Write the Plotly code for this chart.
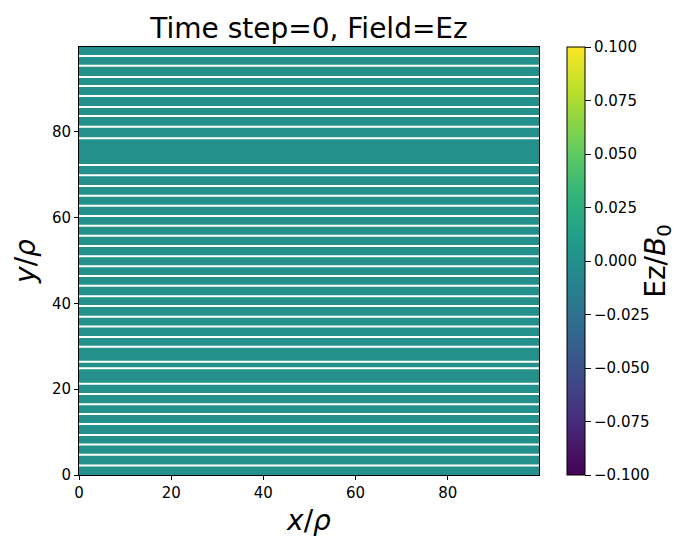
import numpy as np
import plotly.graph_objects as go

# ---- data ----
nx, ny = 100, 100
x_coords = list(np.arange(nx) + 0.5)
y_coords = list(np.arange(ny) + 0.5)
ez_field = np.zeros((ny, nx))          # Time step 0: Ez is identically zero
# y positions (in units of rho) of the thin white gaps seen in the map
gap_y = [97.7, 95.4, 92.8, 90.7, 88.4, 85.8, 83.7, 81.2, 78.5,
         72.3, 69.9, 67.4, 65.1, 62.8, 60.4, 58.1, 55.8, 53.4, 51.0,
         48.7, 46.4, 44.1, 41.7, 39.4, 36.9, 34.6, 32.2, 29.9,
         26.4, 24.9, 21.3, 18.9, 16.5, 14.2, 11.9, 9.3, 7.1, 4.7, 2.2]
x_range = [0, 99.8]
y_range = [0, 99.8]
x_ticks = [0, 20, 40, 60, 80]
y_ticks = [0, 20, 40, 60, 80]
cbar_ticks = [-0.1, -0.075, -0.05, -0.025, 0.0, 0.025, 0.05, 0.075, 0.1]

FONT = "DejaVu Sans"
# page has an 8px body margin: figure origin sits at (8, 8)
W, H = 685, 533
L, T = 71, 39
R = W - 531
B = H - 467
plot_w = W - L - R

fig = go.Figure()
fig.add_trace(go.Heatmap(
    x=x_coords, y=y_coords, z=ez_field,
    zmin=-0.1, zmax=0.1, colorscale="Viridis",
    hoverinfo="skip",
    colorbar=dict(
        thickness=18, len=1.0, lenmode="fraction", y=0.5, yanchor="middle",
        x=(559 - L) / plot_w, xanchor="left", xpad=0, ypad=0,
        outlinewidth=1, outlinecolor="black",
        tickvals=cbar_ticks, tickformat=".3f",
        ticks="outside", ticklen=6, tickwidth=1, tickcolor="black",
        tickfont=dict(family=FONT, size=15, color="black"),
        title=dict(text="Ez/<i>B</i><sub>0</sub>", side="right",
                   font=dict(family=FONT, size=28, color="black")),
    ),
))

# white gap lines
gx, gy = [], []
for yv in gap_y:
    gx += [x_range[0], x_range[1], None]
    gy += [yv, yv, None]
fig.add_trace(go.Scatter(x=gx, y=gy, mode="lines",
                         line=dict(color="white", width=2),
                         hoverinfo="skip", showlegend=False))

axis_common = dict(
    showgrid=False, zeroline=False,
    showline=True, linecolor="black", linewidth=1, mirror=True,
    ticks="outside", ticklen=4, tickwidth=1, tickcolor="black",
    tickfont=dict(family=FONT, size=15, color="black"),
)
fig.update_xaxes(range=x_range, tickvals=x_ticks, **axis_common,
                 title=dict(text="<i>x</i>/<i>ρ</i>", standoff=9,
                            font=dict(family=FONT, size=28, color="black")))
fig.update_yaxes(range=y_range, tickvals=y_ticks, **axis_common,
                 title=dict(text="<i>y</i>/<i>ρ</i>", standoff=8,
                            font=dict(family=FONT, size=28, color="black")))

fig.update_layout(
    width=W, height=H,
    margin=dict(l=L, r=R, t=T, b=B, autoexpand=False),
    paper_bgcolor="white", plot_bgcolor="white",
    showlegend=False,
    title=dict(text="Time step=0, Field=Ez", x=0.5, xref="paper",
               y=1 - 20 / H, yref="container", yanchor="middle",
               font=dict(family=FONT, size=28, color="black")),
)

fig.write_html("out.html")
